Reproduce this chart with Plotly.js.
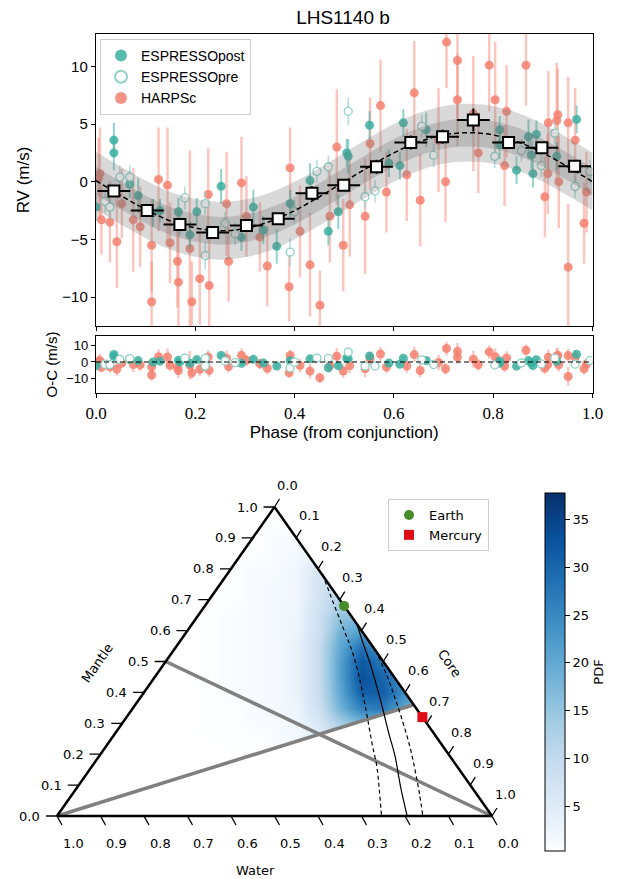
<!DOCTYPE html>
<html><head><meta charset="utf-8">
<script src="https://cdn.plot.ly/plotly-3.0.1.min.js"></script>
<style>html,body{margin:0;padding:0;background:#fff}</style>
</head><body><div id="chart" style="width:619px;height:879px"></div>
<script>
// ---------------- RV data ----------------
const harpsPhase = [0.005,0.008,0.011,0.028,0.042,0.052,0.075,0.089,0.112,0.112,0.126,0.144,0.149,0.164,0.166,0.189,0.193,0.209,0.226,0.228,0.263,0.267,0.293,0.303,0.330,0.345,0.389,0.391,0.411,0.431,0.451,0.471,0.485,0.498,0.511,0.542,0.552,0.573,0.585,0.626,0.641,0.653,0.690,0.704,0.706,0.728,0.728,0.760,0.770,0.792,0.804,0.823,0.827,0.866,0.904,0.910,0.911,0.928,0.930,0.932,0.951,0.951,0.965,0.983,0.988];
const harpsRV    = [0.3,0.7,-3.3,-3.5,-5.2,-1.9,-3.3,-3.9,-5.5,-10.4,0.2,-0.3,-5.3,-6.9,-8.7,-5.8,-10.4,-8.4,-1.1,-9.0,-1.9,-6.9,-0.1,-3.0,-4.8,-7.3,-9.1,1.2,-4.3,-7.2,-10.7,-3.0,3.0,-5.5,-2.0,-3.0,3.3,6.6,-0.9,0.6,7.7,-1.6,3.6,0.0,12.1,10.5,7.1,5.9,2.5,10.1,7.1,1.4,6.1,10.1,-1.3,0.7,5.1,5.3,5.8,0.0,5.1,-7.4,3.6,-3.6,-0.9];
const harpsErr   = [3.5,4.0,3.0,3.5,4.0,3.0,4.5,3.5,4.0,3.5,4.5,5.0,3.5,4.0,4.5,8.5,3.5,4.0,4.0,4.0,4.5,3.5,4.0,3.5,3.0,3.5,3.0,3.5,4.0,4.5,3.0,4.0,5.0,4.0,4.5,5.0,4.0,4.0,3.5,4.0,4.5,4.0,4.5,3.5,4.0,5.0,4.0,5.0,3.5,4.0,5.0,3.5,4.0,3.5,3.5,3.5,4.5,5.0,4.0,4.0,4.0,5.5,4.5,3.5,3.5];

const postPhase = [0.000,0.036,0.036,0.068,0.085,0.115,0.129,0.166,0.169,0.189,0.203,0.252,0.293,0.317,0.337,0.364,0.391,0.431,0.468,0.488,0.505,0.508,0.551,0.590,0.612,0.619,0.665,0.813,0.813,0.847,0.871,0.877,0.880,0.887,0.928,0.968];
const postRV    = [-2.2,3.6,2.5,-0.2,-1.2,-2.7,-2.5,-2.6,-3.6,-4.6,-2.6,-0.4,-4.8,-2.2,-4.2,-5.6,-1.9,0.1,-4.3,-2.6,2.5,2.2,4.9,1.6,1.4,5.1,4.5,3.2,4.5,1.0,3.9,2.3,0.7,4.1,2.2,5.4];
const postErr   = [1.2,1.5,1.5,1.2,1.5,1.2,1.0,1.2,1.0,1.2,1.2,1.5,1.2,1.5,1.2,1.5,1.2,1.5,1.2,1.5,1.2,1.5,1.2,1.2,1.2,1.2,1.5,1.2,1.2,1.2,1.5,1.2,1.2,1.2,1.2,1.2];

const prePhase = [0.018,0.028,0.048,0.068,0.179,0.220,0.220,0.260,0.280,0.391,0.400,0.445,0.468,0.508,0.542,0.562,0.656,0.680,0.803,0.857,0.897,0.924,0.965,0.995];
const preRV    = [-1.7,-2.2,0.4,0.4,-1.4,-1.9,-6.4,-3.6,-4.5,-6.1,-2.6,0.9,1.3,6.1,-1.3,-0.8,4.8,2.3,2.2,2.7,1.4,4.2,-0.4,0.9];
const preErr   = [1.0,1.0,1.0,1.0,1.0,1.0,1.2,1.0,1.0,1.2,1.0,1.0,1.0,1.2,1.0,1.0,1.0,1.0,1.0,1.0,1.0,1.0,1.0,1.0];

const binPhase = [0.036,0.103,0.169,0.235,0.303,0.367,0.435,0.499,0.565,0.634,0.698,0.760,0.831,0.898,0.964];
const binRV    = [-0.8,-2.5,-3.7,-4.4,-3.8,-3.2,-1.0,-0.3,1.3,3.4,3.9,5.35,3.4,2.95,1.35];
const binErrRV = [0.5,0.5,0.5,0.5,0.5,0.5,0.6,0.5,0.6,0.6,0.6,1.0,0.5,0.5,0.5];
const binHalfWidth = 0.033;

const modelPhase = [0,0.05,0.10,0.15,0.20,0.25,0.30,0.35,0.40,0.45,0.50,0.55,0.60,0.65,0.70,0.75,0.80,0.85,0.90,0.95,1.0];
const modelRV    = [0.1,-1.2,-2.4,-3.4,-4.0,-4.25,-4.05,-3.45,-2.5,-1.3,0.0,1.3,2.5,3.45,4.05,4.25,4.05,3.45,2.5,1.3,0.0];
const bandInner = 1.2;
const bandOuter = 2.5;

const rvTicks = [-10,-5,0,5,10];
const ocTicks = [-10,0,10];
const phaseTicks = [0,0.2,0.4,0.6,0.8,1.0];

// ---------------- Ternary data (mantle, core; water = 1 - mantle - core) ----------------
const earthMantle = [0.68], earthCore = [0.32];
const mercuryMantle = [0.32], mercuryCore = [0.68];
const isoLeftMantle = [0.783,0.689,0.608,0.537,0.463,0.385,0.311,0.236,0.162,0.084,0.0];
const isoLeftCore   = [0.219,0.291,0.354,0.409,0.461,0.512,0.559,0.606,0.654,0.699,0.746];
const isoMidMantle  = [0.625,0.566,0.495,0.417,0.343,0.269,0.191,0.097,0.0];
const isoMidCore    = [0.376,0.419,0.472,0.527,0.578,0.628,0.682,0.741,0.805];
const isoRightMantle= [0.537,0.456,0.382,0.304,0.223,0.149,0.074,0.0];
const isoRightCore  = [0.4635,0.530,0.586,0.643,0.700,0.7485,0.796,0.841];
const grayAMantle = [0.5,0.0], grayACore = [0.0,1.0];
const grayBMantle = [0.0,0.36], grayBCore = [0.0,0.64];
const ternTicks = [0,0.1,0.2,0.3,0.4,0.5,0.6,0.7,0.8,0.9,1.0];
const cbTicks = [5,10,15,20,25,30,35];

// density (PDF) cells: rows = mantle fraction, columns = horizontal position across the triangle
const densX = [0.35,0.40,0.45,0.50,0.55,0.60,0.65,0.70,0.75,0.80,0.85];
const densMantle = [0.20,0.25,0.30,0.35,0.40,0.45,0.50,0.55,0.60,0.65,0.70,0.75,0.80,0.85,0.90,0.95,1.00];
const densPDF = [
 [0.3,0.3,0.5,0.5,1,3,7,9,10,10,8],
 [0.3,0.5,0.5,1,1.5,4,9,12,13,12,10],
 [0.5,0.5,1,1,2,6,13,17,18,15,12],
 [0.5,0.5,1,1.5,2.5,8,18,26,27,20,18],
 [0.5,1,1,1.5,3,9,20,31,31,24,18],
 [0.5,1,1,1.5,3,9,21,33,30,22,15],
 [0.5,1,1,1.5,3,9,21,32,27,20,10],
 [0.5,1,1,1.5,3,9,20,28,22,16,5],
 [0.5,1,1,1.5,2.5,8,18,21,18,12,0],
 [0.5,1,1,1.5,2.5,8,15,16,13,5,0],
 [0.5,0.5,1,1.5,2,7,12,12,9,0,0],
 [0.3,0.5,1,1.5,2,7,9,8,5,0,0],
 [0,0.5,1,1,2,6,7,5,0,0,0],
 [0,0.5,0.5,1,1.5,3,3,2,0,0,0],
 [0,0.3,0.5,1,1,1.5,1.5,1,0,0,0],
 [0,0,0.5,0.5,1,1,1,0.5,0,0,0],
 [0,0,0.3,0.5,0.5,0.5,0.3,0,0,0,0]
];

// ---------------- geometry / styling ----------------
const W = 619, H = 879;
const TL = {x:57, y:816}, TRW = 435, THT = 309; // ternary frame in pixels
const TX0 = -0.13, TX1 = 1.2, TY0 = -0.2, TY1 = 1.2;
const pxX = 1/TRW, pxY = 1/THT;
function tX(m,c){ return c + m/2; }
function tY(m){ return m; }
function conv(ms, cs){ return {x: ms.map((m,i)=>tX(m,cs[i])), y: ms.map(m=>tY(m))}; }

const teal = '#3aafa0', tealBar = 'rgba(58,175,160,0.55)';
const salmon = 'rgba(244,128,112,0.85)', salmonBar = 'rgba(244,128,112,0.45)';
const preEdge = '#8fd0c7';
const sans = 'Liberation Sans, Arial, sans-serif';
const serif = 'Liberation Serif, DejaVu Serif, serif';
const dv = 'DejaVu Sans, sans-serif';

function modelAt(p){
  for (let i=0;i<modelPhase.length-1;i++){
    if (p>=modelPhase[i] && p<=modelPhase[i+1]){
      const f=(p-modelPhase[i])/(modelPhase[i+1]-modelPhase[i]);
      return modelRV[i]+f*(modelRV[i+1]-modelRV[i]);
    }
  }
  return modelRV[modelRV.length-1];
}

const traces = [];
function dataTrace(name, ph, rv, er, marker, barColor, barW, xa, ya, show, rank){
  return {type:'scatter', mode:'markers', name:name, x:ph, y:rv, xaxis:xa, yaxis:ya,
    error_y:{type:'data', array:er, visible:true, color:barColor, thickness:barW, width:0},
    marker:marker, showlegend:show, legend:'legend', legendrank:rank||1000, hoverinfo:'skip'};
}
const mkPost = {color:teal, size:9, opacity:0.85};
const mkPre = {color:'#ffffff', size:8, line:{color:preEdge, width:1.3}};
const mkHarps = {color:salmon, size:9};

traces.push(dataTrace('HARPSc', harpsPhase, harpsRV, harpsErr, mkHarps, salmonBar, 2.5, 'x','y', true, 3));
traces.push(dataTrace('ESPRESSOpost', postPhase, postRV, postErr, mkPost, tealBar, 2, 'x','y', true, 1));
traces.push(dataTrace('ESPRESSOpre', prePhase, preRV, preErr, mkPre, 'rgba(143,208,199,0.7)', 1.5, 'x','y', true, 2));

// bands
const outerLo = modelRV.map(v=>v-bandOuter), outerHi = modelRV.map(v=>v+bandOuter);
const innerLo = modelRV.map(v=>v-bandInner), innerHi = modelRV.map(v=>v+bandInner);
const noLine = {width:0, shape:'spline', color:'rgba(0,0,0,0)'};
traces.push({type:'scatter', mode:'lines', x:modelPhase, y:outerLo, line:noLine, showlegend:false, hoverinfo:'skip', xaxis:'x', yaxis:'y'});
traces.push({type:'scatter', mode:'lines', x:modelPhase, y:outerHi, fill:'tonexty', fillcolor:'rgba(120,120,120,0.28)', line:noLine, showlegend:false, hoverinfo:'skip', xaxis:'x', yaxis:'y'});
traces.push({type:'scatter', mode:'lines', x:modelPhase, y:innerLo, line:noLine, showlegend:false, hoverinfo:'skip', xaxis:'x', yaxis:'y'});
traces.push({type:'scatter', mode:'lines', x:modelPhase, y:innerHi, fill:'tonexty', fillcolor:'rgba(110,110,110,0.28)', line:noLine, showlegend:false, hoverinfo:'skip', xaxis:'x', yaxis:'y'});
traces.push({type:'scatter', mode:'lines', x:modelPhase, y:modelRV, line:{color:'#000', width:1.5, dash:'5px,3px', shape:'spline'}, showlegend:false, hoverinfo:'skip', xaxis:'x', yaxis:'y'});
// binned
traces.push({type:'scatter', mode:'markers', x:binPhase, y:binRV, xaxis:'x', yaxis:'y',
  error_y:{type:'data', array:binErrRV, color:'#000', thickness:2, width:0},
  error_x:{type:'constant', value:binHalfWidth, color:'#000', thickness:2, width:0},
  marker:{symbol:'square', size:11, color:'#fff', line:{color:'#000', width:2}}, showlegend:false, hoverinfo:'skip'});

// residuals (observed minus model)
const resid = (ph, rv) => rv.map((v,i)=> v - modelAt(ph[i]));
traces.push(dataTrace('h2', harpsPhase, resid(harpsPhase,harpsRV), harpsErr, mkHarps, salmonBar, 2.5, 'x2','y2', false));
traces.push(dataTrace('p2', postPhase, resid(postPhase,postRV), postErr, mkPost, tealBar, 2, 'x2','y2', false));
traces.push(dataTrace('r2', prePhase, resid(prePhase,preRV), preErr, mkPre, 'rgba(143,208,199,0.7)', 1.5, 'x2','y2', false));
traces.push({type:'scatter', mode:'lines', x:modelPhase, y:modelPhase.map(()=>0), line:{color:'#000', width:1.2, dash:'5px,3px'}, showlegend:false, hoverinfo:'skip', xaxis:'x2', yaxis:'y2'});

// ---------------- ternary ----------------
const blues = [[0,'#ffffff'],[0.02,'#f7fbff'],[0.125,'#deebf7'],[0.25,'#c6dbef'],[0.375,'#9ecae1'],[0.5,'#6baed6'],[0.625,'#4292c6'],[0.75,'#2171b5'],[0.875,'#08519c'],[1,'#08306b']];
traces.push({type:'heatmap', x:densX, y:densMantle, z:densPDF, xaxis:'x3', yaxis:'y3', zsmooth:'best',
  colorscale:blues, zmin:0.3, zmax:37.8, showscale:true, hoverinfo:'skip',
  colorbar:{x:545/W, xanchor:'left', y:1-672/H, yanchor:'middle', len:358/H, lenmode:'fraction', thickness:20, thicknessmode:'pixels',
    outlinecolor:'#000', outlinewidth:1, ticks:'outside', ticklen:5, tickcolor:'#000', tickvals:cbTicks,
    tickfont:{family:dv, size:13, color:'#000'}, title:{text:'PDF', side:'right', font:{family:dv, size:13, color:'#000'}}, xpad:0, ypad:0}});
// masks: outside triangle and below gray line B (derived from corner + gray line data)
const P = {x:tX(grayBMantle[1],grayBCore[1]), y:tY(grayBMantle[1])};
const Tv = {x:tX(1,0), y:1}, Lv = {x:tX(0,0), y:0}, Rv = {x:tX(0,1), y:0};
traces.push({type:'scatter', mode:'lines', xaxis:'x3', yaxis:'y3', fill:'toself', fillcolor:'#ffffff', line:{width:0, color:'rgba(0,0,0,0)'},
  x:[Tv.x, Rv.x, 1.3, 1.3, -0.3, -0.3, Lv.x, Tv.x, null, Lv.x, P.x, Rv.x, 1.3, 1.3, -0.3, -0.3, Lv.x],
  y:[Tv.y, Rv.y, 0, 1.3, 1.3, 0, Lv.y, Tv.y, null, Lv.y, P.y, Rv.y, 0, -0.3, -0.3, 0, Lv.y],
  showlegend:false, hoverinfo:'skip'});

// gray lines
[[grayAMantle,grayACore],[grayBMantle,grayBCore]].forEach(g=>{
  const c = conv(g[0], g[1]);
  traces.push({type:'scatter', mode:'lines', x:c.x, y:c.y, xaxis:'x3', yaxis:'y3', line:{color:'#808080', width:3.5}, showlegend:false, hoverinfo:'skip'});
});
// iso curves
[[isoLeftMantle,isoLeftCore,'4px,3px'],[isoMidMantle,isoMidCore,'solid'],[isoRightMantle,isoRightCore,'4px,3px']].forEach(g=>{
  const c = conv(g[0], g[1]);
  traces.push({type:'scatter', mode:'lines', x:c.x, y:c.y, xaxis:'x3', yaxis:'y3', line:{color:'#000', width:1.2, dash:g[2], shape:'spline'}, showlegend:false, hoverinfo:'skip'});
});
// frame
const fr = conv([1,0,0,1],[0,0,1,0]);
traces.push({type:'scatter', mode:'lines', x:fr.x, y:fr.y, xaxis:'x3', yaxis:'y3', line:{color:'#000', width:2.5}, showlegend:false, hoverinfo:'skip'});
// tick marks + labels
const tkx=[], tky=[];
const anns = [];
const tfont = {family:dv, size:13, color:'#000'};
ternTicks.forEach(t=>{
  let x0=tX(t,0), y0=tY(t);
  tkx.push(x0, x0-11*pxX, null); tky.push(y0, y0, null);
  anns.push({xref:'x3', yref:'y3', x:x0-15*pxX, y:y0, text:t.toFixed(1), showarrow:false, xanchor:'right', yanchor:'middle', font:tfont});
  x0=tX(1-t,t); y0=tY(1-t);
  tkx.push(x0, x0+5*pxX, null); tky.push(y0, y0+8*pxY, null);
  anns.push({xref:'x3', yref:'y3', x:x0+13*pxX, y:y0+22*pxY, text:t.toFixed(1), showarrow:false, xanchor:'center', yanchor:'middle', font:tfont});
  x0=tX(0,1-t); y0=0;
  tkx.push(x0, x0+5*pxX, null); tky.push(y0, y0-9*pxY, null);
  anns.push({xref:'x3', yref:'y3', x:x0+16*pxX, y:y0-27*pxY, text:t.toFixed(1), showarrow:false, xanchor:'center', yanchor:'middle', font:tfont});
});
traces.push({type:'scatter', mode:'lines', x:tkx, y:tky, xaxis:'x3', yaxis:'y3', line:{color:'#000', width:1.3}, showlegend:false, hoverinfo:'skip'});
// planets
const ec = conv(earthMantle, earthCore), mc = conv(mercuryMantle, mercuryCore);
traces.push({type:'scatter', mode:'markers', name:'Earth', x:ec.x, y:ec.y, xaxis:'x3', yaxis:'y3', marker:{color:'#4a8b2c', size:10}, legend:'legend2', cliponaxis:false, hoverinfo:'skip'});
traces.push({type:'scatter', mode:'markers', name:'Mercury', x:mc.x, y:mc.y, xaxis:'x3', yaxis:'y3', marker:{color:'#e00d16', symbol:'square', size:10}, legend:'legend2', cliponaxis:false, hoverinfo:'skip'});

anns.push({xref:'x3', yref:'y3', x:(96.7-TL.x)*pxX, y:(TL.y-663)*pxY, text:'Mantle', textangle:-55, showarrow:false, font:tfont});
anns.push({xref:'x3', yref:'y3', x:(450-TL.x)*pxX, y:(TL.y-663)*pxY, text:'Core', textangle:55, showarrow:false, font:tfont});
anns.push({xref:'x3', yref:'y3', x:(255-TL.x)*pxX, y:(TL.y-870)*pxY, text:'Water', showarrow:false, font:tfont});

const axLine = {showline:true, linecolor:'#000', linewidth:1.2, mirror:true, ticks:'outside', ticklen:4, tickcolor:'#000', showgrid:false, zeroline:false};
const rvX0 = 96/W, rvX1 = 592.5/W;
const layout = {
  width:W, height:H, margin:{l:0,r:0,t:0,b:0}, paper_bgcolor:'#fff', plot_bgcolor:'rgba(0,0,0,0)',
  title:{text:'LHS1140 b', x:343/W, xanchor:'center', y:1-17/H, yanchor:'middle', font:{family:sans, size:19, color:'#000'}},
  xaxis:Object.assign({}, axLine, {domain:[rvX0,rvX1], range:[0,1], anchor:'y', tickvals:phaseTicks, showticklabels:false}),
  yaxis:Object.assign({}, axLine, {domain:[1-326/H, 1-34/H], range:[-12.5,12.8], anchor:'x', tickvals:rvTicks,
    tickfont:{family:sans, size:15, color:'#000'}, title:{text:'RV (m/s)', font:{family:sans, size:17, color:'#000'}, standoff:28}}),
  xaxis2:Object.assign({}, axLine, {domain:[rvX0,rvX1], range:[0,1], anchor:'y2', tickvals:phaseTicks, tickformat:'.1f',
    tickfont:{family:serif, size:17, color:'#000'}, title:{text:'Phase (from conjunction)', font:{family:sans, size:17, color:'#000'}, standoff:4}}),
  yaxis2:Object.assign({}, axLine, {domain:[1-393/H, 1-336/H], range:[-18.5,15.5], anchor:'x2', tickvals:ocTicks,
    tickfont:{family:sans, size:13, color:'#000'}, title:{text:'O-C (m/s)', font:{family:sans, size:15, color:'#000'}, standoff:4}}),
  xaxis3:{domain:[(TL.x+TX0*TRW)/W, (TL.x+TX1*TRW)/W], range:[TX0,TX1], anchor:'y3', visible:false, showgrid:false, zeroline:false},
  yaxis3:{domain:[1-(TL.y-TY0*THT)/H, 1-(TL.y-TY1*THT)/H], range:[TY0,TY1], anchor:'x3', visible:false, showgrid:false, zeroline:false},
  legend:{x:100/W, y:1-39/H, xanchor:'left', yanchor:'top', bgcolor:'rgba(255,255,255,0.85)', bordercolor:'#cccccc', borderwidth:1,
    font:{family:sans, size:14, color:'#000'}, tracegroupgap:0, itemsizing:'constant', traceorder:'normal'},
  legend2:{x:388/W, y:1-499/H, xanchor:'left', yanchor:'top', bgcolor:'#fff', bordercolor:'#cccccc', borderwidth:1,
    font:{family:dv, size:13, color:'#000'}},
  annotations:anns, showlegend:true
};
Plotly.newPlot('chart', traces, layout, {displayModeBar:false, staticPlot:true});
</script></body></html>
